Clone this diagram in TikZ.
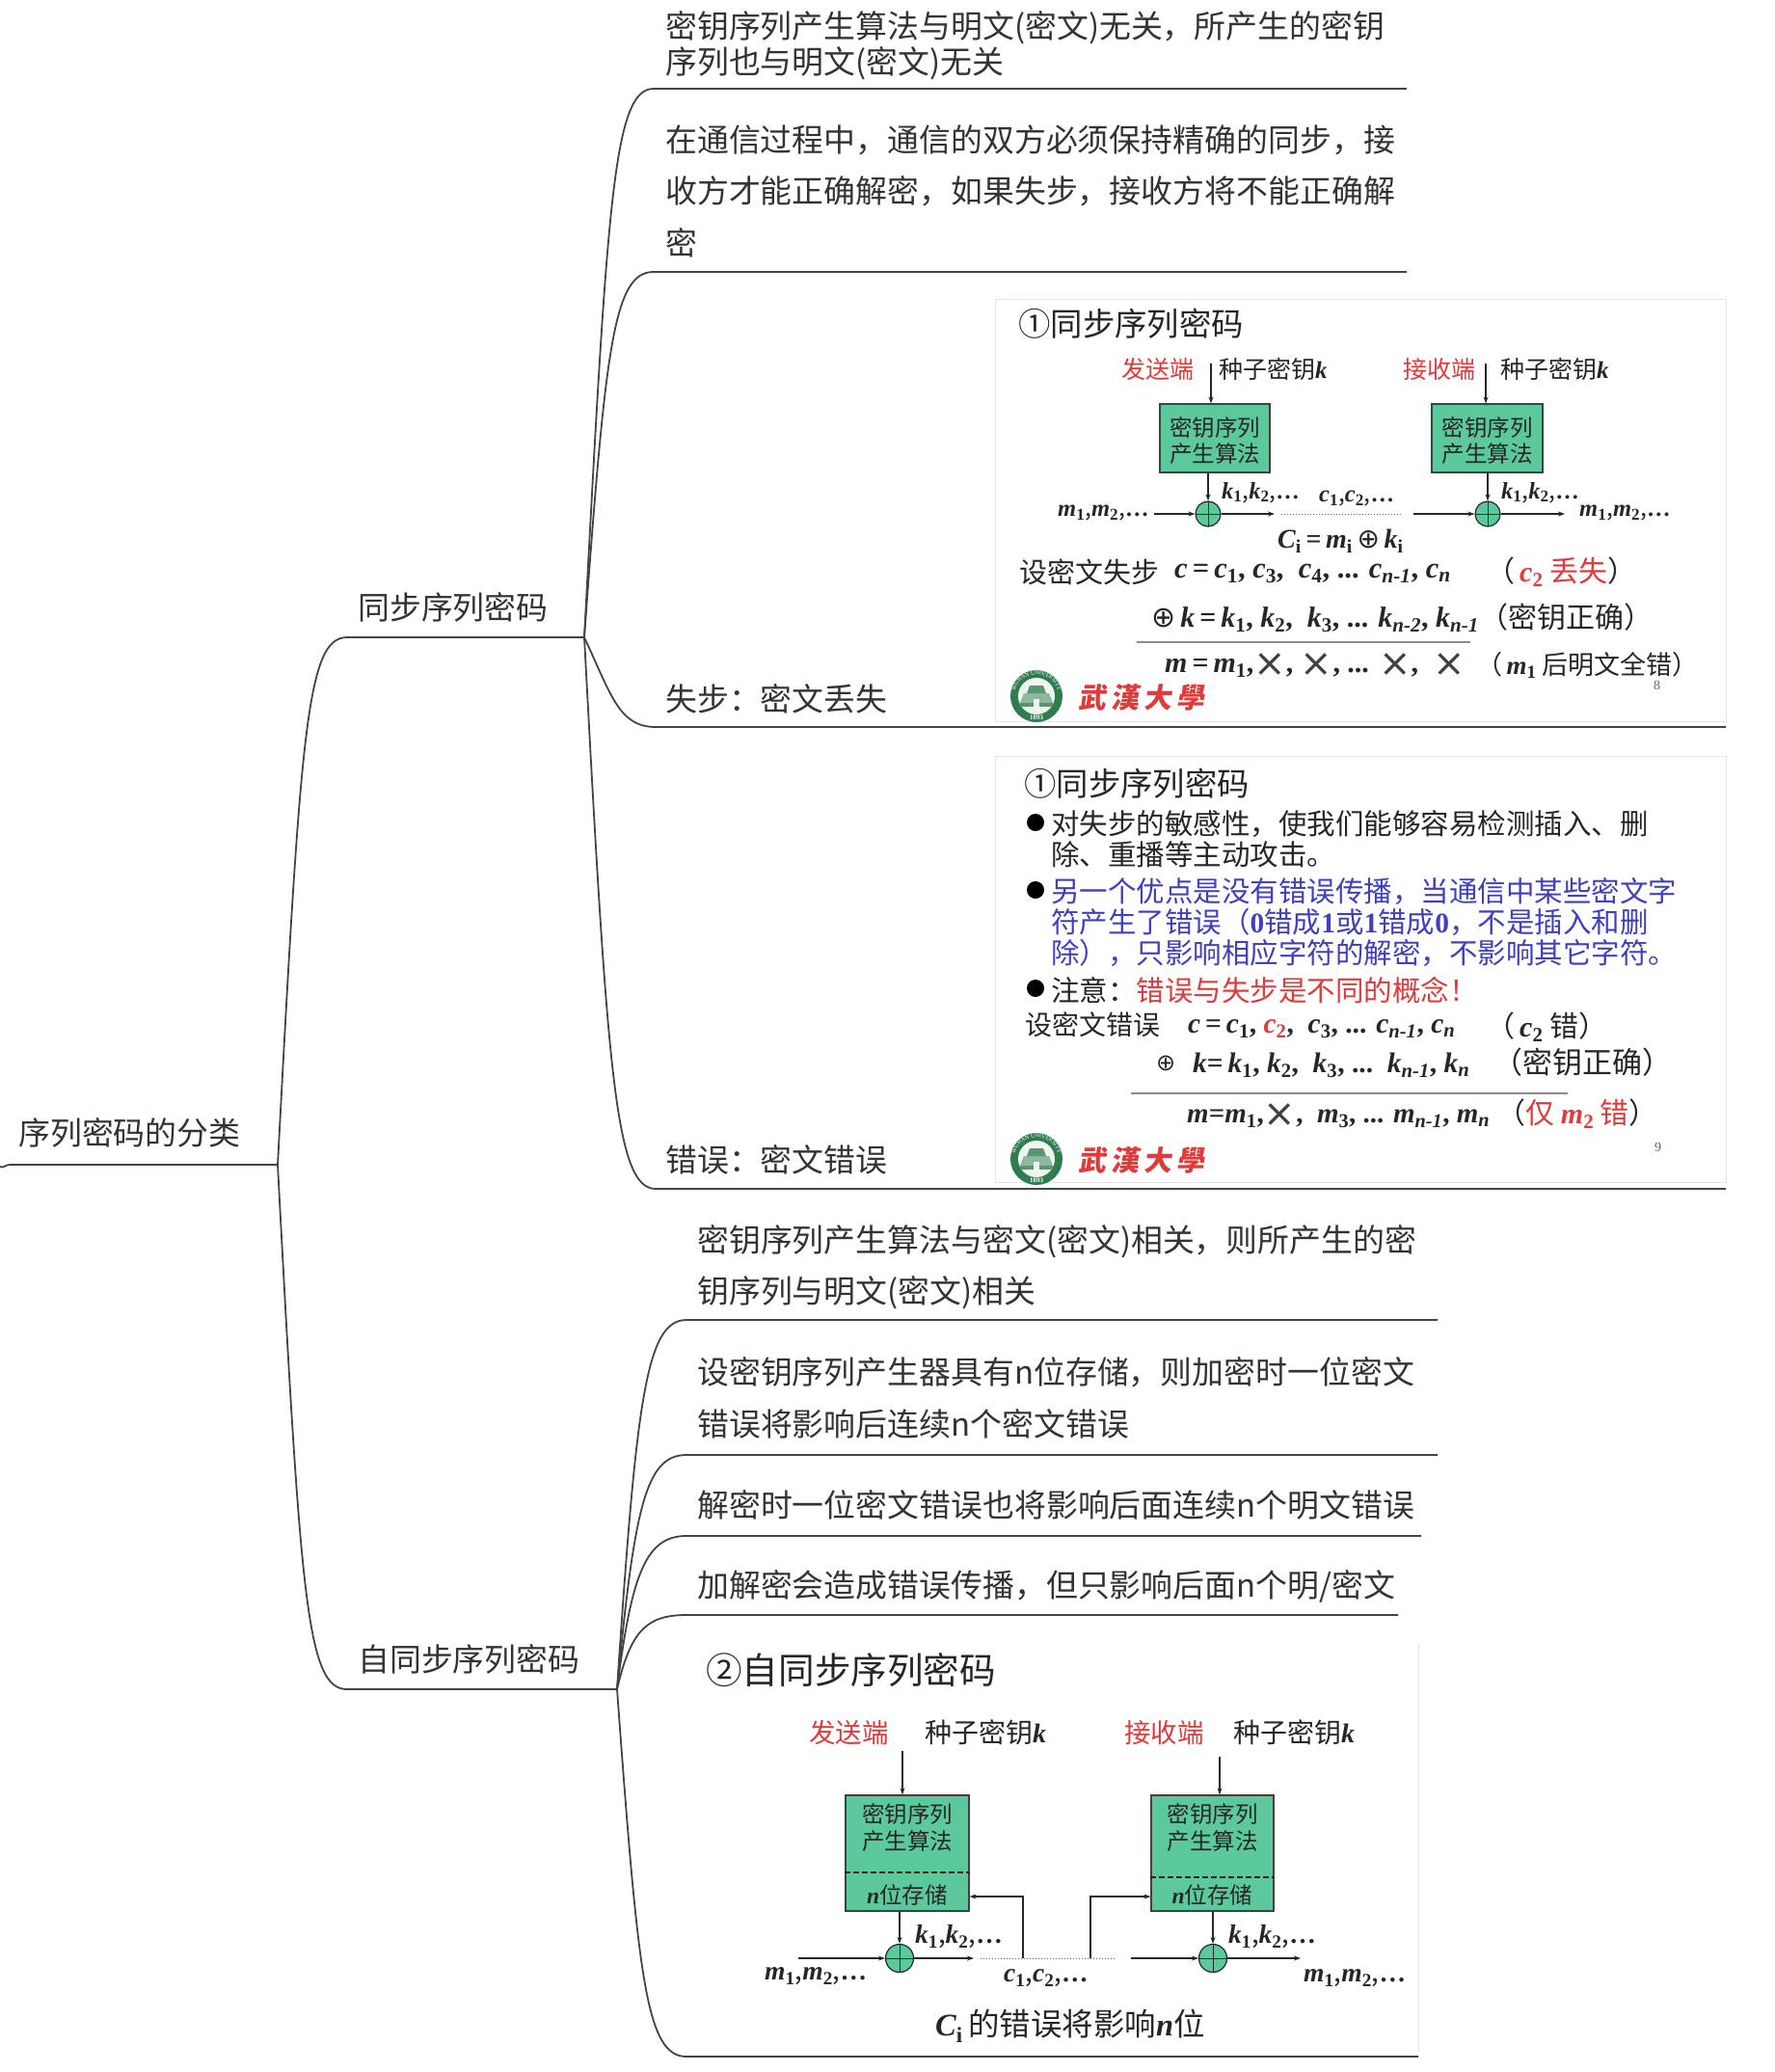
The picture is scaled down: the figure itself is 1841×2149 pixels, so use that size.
\documentclass[tikz,border=0pt]{standalone}
\usepackage{fontspec}
\setmainfont{Noto Sans CJK SC}
\newfontfamily\latf{Liberation Serif}
\newfontfamily\symf{DejaVu Sans}
\usetikzlibrary{
arrows.meta,
positioning,
calc,
decorations.text
}
\definecolor{inkgray}{HTML}{333333}
\definecolor{linegray}{HTML}{444444}
\definecolor{algogreen}{HTML}{5BC99B}
\definecolor{sealgreen}{HTML}{2F7D4F}
\definecolor{slidered}{HTML}{E03A3A}
\definecolor{slideblue}{HTML}{3F3FC0}
\newcommand{\bvar}[1]{{\latf\bfseries\itshape #1}}
\newcommand{\bsub}[2]{\bvar{#1}\textsubscript{{\latf\bfseries #2}}}
\newcommand{\bsubi}[2]{\bvar{#1}\textsubscript{\bvar{#2}}}
\newcommand{\xo}{{\symf ⊕}}
\newcommand{\xx}{\raisebox{-4pt}{\symf\fontsize{40}{40}\selectfont\color{black!75}×}}
\newcommand{\num}[1]{{\latf\bfseries #1}}
\tikzset{
seal/.pic={
\fill[sealgreen] (0,0) circle (27);
\fill[white!92!sealgreen] (0,0) circle (19);
\fill[sealgreen!55] (-13,-3) -- (13,-3) -- (17,7) -- (-17,7) -- cycle;
\fill[sealgreen!80] (-17,7) rectangle (17,11);
\fill[sealgreen!80] (-7,-11) -- (7,-11) -- (10,-3) -- (-10,-3) -- cycle;
\fill[white!92!sealgreen] (-3,11) rectangle (3,3);
\path[decorate,decoration={text along path,text align=center,
 text={|\fontsize{6}{6}\selectfont\latf\color{white}|WUHAN UNIVERSITY}}]
 (-22,-2) .. controls (-22,-29) and (22,-29) .. (22,-2);
\node[inner sep=0pt,text=white,font=\fontsize{7}{7}\selectfont\latf\bfseries] (sealyear) at (0,22.5) {1893};
}
}

\begin{document}
\begin{tikzpicture}[
x=1pt,y=-1pt,
branch/.style={draw=linegray,line width=1.8pt},
mind/.style={anchor=west,inner sep=0pt,text=inkgray,align=left,font=\fontsize{32.9}{37}\selectfont},
mindwide/.style={mind,font=\fontsize{32.9}{53.5}\selectfont},
slidebg/.style={fill=white,draw=black!10,line width=1pt},
algo/.style={draw=black!75,fill=algogreen,line width=1.2pt,inner sep=0pt,align=center},
algotxt/.style={inner sep=0pt,align=center,text=black!85,font=\fontsize{23.5}{27.5}\selectfont},
xorc/.style={circle,draw=black!85,fill=algogreen,line width=1.2pt,inner sep=0pt,minimum size=#1,
 path picture={\draw[black!85,line width=1pt] (path picture bounding box.north) -- (path picture bounding box.south)
 (path picture bounding box.west) -- (path picture bounding box.east);}},
flow/.style={-{Stealth[length=7pt,width=5pt]},black!85,line width=1.2pt},
dots/.style={black!60,line width=1pt,dotted},
slidetxt/.style={anchor=west,inner sep=0pt,text=black!85,font=\fontsize{#1}{#1}\selectfont},
bulletdot/.style={circle,fill=black,inner sep=0pt,minimum size=18pt},
univ/.style={anchor=west,inner sep=0pt,text=slidered,font=\fontsize{29}{29}\selectfont\bfseries,xslant=0.15}
]

\useasboundingbox (0,0) rectangle (1841,2149);
\fill[white] (0,0) rectangle (1841,2149);

% slides behind the branches
\draw[slidebg] (1032,310) rectangle (1790,748);
\draw[slidebg] (1032,784) rectangle (1790,1226);
\draw[black!10,line width=1pt] (1471,1705) -- (1471,2128);

% root
\coordinate (rootin) at (0,1210);
\coordinate (rootbend) at (10,1208);
\coordinate (rootj) at (288,1208);
\draw[branch] (rootin) to[out=-30,in=180] (rootbend) -- (rootj);
\node[mind] (root) at (19,1175) {序列密码的分类};

% sync branch
\coordinate (syncbend) at (360,661);
\coordinate (syncj) at (606,661);
\draw[branch] (rootj) .. controls +(24,-450) and +(-42,0) .. (syncbend) -- (syncj);
\node[mind] (sync) at (371,630) {同步序列密码};

\coordinate (a1bend) at (678,92);
\coordinate (a1end) at (1459,92);
\coordinate (a2bend) at (678,282);
\coordinate (a2end) at (1459,282);
\coordinate (a3bend) at (680,754);
\coordinate (a3end) at (1790,754);
\coordinate (a4bend) at (680,1233);
\coordinate (a4end) at (1790,1233);
\draw[branch] (syncj) .. controls +(24,-450) and +(-42,0) .. (a1bend) -- (a1end);
\draw[branch] (syncj) .. controls +(22,-300) and +(-42,0) .. (a2bend) -- (a2end);
\draw[branch] (syncj) .. controls +(28,60) and +(-38,0) .. (a3bend) -- (a3end);
\draw[branch] (syncj) .. controls +(24,450) and +(-42,0) .. (a4bend) -- (a4end);

\node[mind] (a1) at (690,47) {密钥序列产生算法与明文(密文)无关，所产生的密钥\\序列也与明文(密文)无关};
\node[mindwide] (a2) at (690,198) {在通信过程中，通信的双方必须保持精确的同步，接\\收方才能正确解密，如果失步，接收方将不能正确解\\密};
\node[mind] (a3) at (690,725) {失步：密文丢失};
\node[mind] (a4) at (690,1203) {错误：密文错误};

% self-sync branch
\coordinate (selfbend) at (360,1752);
\coordinate (selfj) at (640,1752);
\draw[branch] (rootj) .. controls +(24,450) and +(-42,0) .. (selfbend) -- (selfj);
\node[mind] (self) at (371,1721) {自同步序列密码};

\coordinate (b1bend) at (712,1369);
\coordinate (b1end) at (1491,1369);
\coordinate (b2bend) at (712,1509);
\coordinate (b2end) at (1491,1509);
\coordinate (b3bend) at (712,1593);
\coordinate (b3end) at (1474,1593);
\coordinate (b4bend) at (712,1675);
\coordinate (b4end) at (1450,1675);
\coordinate (b5bend) at (712,2133);
\coordinate (b5end) at (1471,2133);
\draw[branch] (selfj) .. controls +(20,-300) and +(-42,0) .. (b1bend) -- (b1end);
\draw[branch] (selfj) .. controls +(18,-190) and +(-42,0) .. (b2bend) -- (b2end);
\draw[branch] (selfj) .. controls +(15,-120) and +(-42,0) .. (b3bend) -- (b3end);
\draw[branch] (selfj) .. controls +(14,-60) and +(-42,0) .. (b4bend) -- (b4end);
\draw[branch] (selfj) .. controls +(22,300) and +(-42,0) .. (b5bend) -- (b5end);

\node[mindwide] (b1) at (723,1314) {密钥序列产生算法与密文(密文)相关，则所产生的密\\钥序列与明文(密文)相关};
\node[mindwide] (b2) at (723,1450) {设密钥序列产生器具有n位存储，则加密时一位密文\\错误将影响后连续n个密文错误};
\node[mind] (b3) at (723,1561) {解密时一位密文错误也将影响后面连续n个明文错误};
\node[mind] (b4) at (723,1645) {加解密会造成错误传播，但只影响后面n个明/密文};

% slide one
\node[slidetxt=33.4] (s1title) at (1056,336) {①同步序列密码};
\node[slidetxt=25,text=slidered] (s1send) at (1163,383) {发送端};
\node[slidetxt=25] (s1seed) at (1264,383) {种子密钥\bvar{k}};
\node[slidetxt=25,text=slidered] (s1recv) at (1455,383) {接收端};
\node[slidetxt=25] (s1seedb) at (1556,383) {种子密钥\bvar{k}};
\node[algo,minimum width=114pt,minimum height=71pt] (s1gen) at (1260,454.5) {};
\node[algo,minimum width=115pt,minimum height=71pt] (s1genb) at (1542.5,454.5) {};
\node[algotxt] (s1genl) at (1260,457) {密钥序列\\产生算法};
\node[algotxt] (s1genlb) at (1542.5,457) {密钥序列\\产生算法};
\node[xorc=26pt] (s1xor) at (1253,533) {};
\node[xorc=26pt] (s1xorb) at (1543,533) {};
\coordinate (s1ktop) at (1256,377);
\coordinate (s1ktopb) at (1541,377);
\draw[flow] (s1ktop) -- (s1ktop |- s1gen.north);
\draw[flow] (s1ktopb) -- (s1ktopb |- s1genb.north);
\draw[flow] (s1gen.south -| s1xor) -- (s1xor);
\draw[flow] (s1genb.south -| s1xorb) -- (s1xorb);
\node[slidetxt=24.5] (s1min) at (1097,532) {\bsub{m}{1},\bsub{m}{2},{\latf\bfseries…}};
\node[slidetxt=24.5] (s1k) at (1267,511) {\bsub{k}{1},\bsub{k}{2},{\latf\bfseries…}};
\node[slidetxt=24.5] (s1c) at (1368,517) {\bsub{c}{1},\bsub{c}{2},{\latf\bfseries…}};
\node[slidetxt=24.5] (s1kb) at (1557,511) {\bsub{k}{1},\bsub{k}{2},{\latf\bfseries…}};
\node[slidetxt=24.5] (s1mout) at (1638,532) {\bsub{m}{1},\bsub{m}{2},{\latf\bfseries…}};
\coordinate (s1l) at (1197,533);
\coordinate (s1r) at (1322,533);
\coordinate (s1dl) at (1329,533);
\coordinate (s1dr) at (1454,533);
\coordinate (s1lb) at (1466,533);
\coordinate (s1rb) at (1623,533);
\draw[flow] (s1l) -- (s1xor);
\draw[flow] (s1xor) -- (s1r);
\draw[dots] (s1dl) -- (s1dr);
\draw[flow] (s1lb) -- (s1xorb);
\draw[flow] (s1xorb) -- (s1rb);
\node[slidetxt=28] (s1eq) at (1325,561) {\bsub{C}{i}{\latf\bfseries\,=\,}\bsub{m}{i}\,\xo\,\bsub{k}{i}};
\node[slidetxt=29] (s1lose) at (1057,593) {设密文失步};
\node[slidetxt=30.5] (s1cseq) at (1218,595) {\bvar{c}{\latf\bfseries\,=\,}\bsub{c}{1}{\latf\bfseries, }\bsub{c}{3}{\latf\bfseries,\ \ }\bsub{c}{4}{\latf\bfseries, ... }\bsubi{c}{n-1}{\latf\bfseries, }\bsubi{c}{n}};
\node[slidetxt=30] (s1cnote) at (1541,593) {（\,\textcolor{slidered}{\bsub{c}{2} 丢失}）};
\node[slidetxt=30] (s1kseq) at (1194,643) {\xo\,\bvar{k}{\latf\bfseries\,=\,}\bsub{k}{1}{\latf\bfseries, }\bsub{k}{2}{\latf\bfseries,\ \ }\bsub{k}{3}{\latf\bfseries, ... }\bsubi{k}{n-2}{\latf\bfseries, }\bsubi{k}{n-1}};
\node[slidetxt=30] (s1knote) at (1534,640) {（密钥正确）};
\coordinate (s1rulel) at (1179,666);
\coordinate (s1ruler) at (1525,666);
\draw[black!45,line width=1.2pt] (s1rulel) -- (s1ruler);
\node[slidetxt=30] (s1mseq) at (1208,690) {\bvar{m}{\latf\bfseries\,=\,}\bsub{m}{1}{\latf\bfseries,}\xx{\latf\bfseries, }\xx{\latf\bfseries, ... }\xx{\latf\bfseries,\ \ }\xx};
\node[slidetxt=27] (s1mnote) at (1531,690) {（\,\bsub{m}{1} 后明文全错）};
\node[slidetxt=14,text=black!60] (s1page) at (1715,711) {\latf 8};
\pic at (1075,722) {seal};
\node[univ] (s1univ) at (1120,724) {武\,漢\,大\,學};

% slide two
\node[slidetxt=33.4] (s2title) at (1062,813) {①同步序列密码};
\node[bulletdot] (s2dota) at (1074,853) {};
\node[bulletdot] (s2dotb) at (1074,923) {};
\node[bulletdot] (s2dotc) at (1074,1025) {};
\node[slidetxt=29.5,align=left,font=\fontsize{29.5}{32}\selectfont] (s2pa) at (1090,870) {对失步的敏感性，使我们能够容易检测插入、删\\除、重播等主动攻击。};
\node[slidetxt=29.5,align=left,text=slideblue,font=\fontsize{29.5}{32}\selectfont] (s2pb) at (1090,957) {另一个优点是没有错误传播，当通信中某些密文字\\符产生了错误（\num{0}错成\num{1}或\num{1}错成\num{0}，不是插入和删\\除），只影响相应字符的解密，不影响其它字符。};
\node[slidetxt=29.5] (s2pc) at (1090,1027) {注意：\textcolor{slidered}{错误与失步是不同的概念！}};
\node[slidetxt=28] (s2err) at (1063,1063) {设密文错误};
\node[slidetxt=29.5] (s2cseq) at (1232,1067) {\bvar{c}{\latf\bfseries\,=\,}\bsub{c}{1}{\latf\bfseries, }\textcolor{slidered}{\bsub{c}{2}}{\latf\bfseries,\ \ }\bsub{c}{3}{\latf\bfseries, ... }\bsubi{c}{n-1}{\latf\bfseries, }\bsubi{c}{n}};
\node[slidetxt=30] (s2cnote) at (1541,1065) {（\,\bsub{c}{2} 错）};
\node[slidetxt=24] (s2xor) at (1199,1103) {\xo};
\node[slidetxt=29.5] (s2kseq) at (1237,1105) {\bvar{k}{\latf\bfseries=\,}\bsub{k}{1}{\latf\bfseries, }\bsub{k}{2}{\latf\bfseries,\ \ }\bsub{k}{3}{\latf\bfseries, ...\ \ }\bsubi{k}{n-1}{\latf\bfseries, }\bsubi{k}{n}};
\node[slidetxt=31] (s2knote) at (1548,1102) {（密钥正确）};
\coordinate (s2rulel) at (1173,1134);
\coordinate (s2ruler) at (1626,1134);
\draw[black!45,line width=1.2pt] (s2rulel) -- (s2ruler);
\node[slidetxt=29] (s2mseq) at (1231,1157) {\bvar{m}{\latf\bfseries=}\bsub{m}{1}{\latf\bfseries,}\xx{\latf\bfseries,\ \ }\bsub{m}{3}{\latf\bfseries, ... }\bsubi{m}{n-1}{\latf\bfseries, }\bsubi{m}{n}};
\node[slidetxt=30] (s2mnote) at (1552,1155) {（\textcolor{slidered}{仅 \bsub{m}{2} 错}）};
\node[slidetxt=14,text=black!60] (s2page) at (1716,1190) {\latf 9};
\pic at (1075,1202) {seal};
\node[univ] (s2univ) at (1120,1204) {武\,漢\,大\,學};

% slide three
\node[slidetxt=37.6] (s3title) at (732,1732) {②自同步序列密码};
\node[slidetxt=27.5,text=slidered] (s3send) at (839,1797) {发送端};
\node[slidetxt=28] (s3seed) at (959,1797) {种子密钥\bvar{k}};
\node[slidetxt=27.5,text=slidered] (s3recv) at (1166,1797) {接收端};
\node[slidetxt=28] (s3seedb) at (1279,1797) {种子密钥\bvar{k}};
\node[algo,minimum width=128pt,minimum height=120pt] (s3gen) at (941,1922) {};
\node[algo,minimum width=127pt,minimum height=120pt] (s3genb) at (1257.5,1922) {};
\node[algotxt] (s3genl) at (941,1895.5) {密钥序列\\产生算法};
\node[algotxt] (s3genlb) at (1257.5,1895.5) {密钥序列\\产生算法};
\node[algotxt] (s3mem) at (941,1965) {\bvar{n}位存储};
\node[algotxt] (s3memb) at (1257.5,1965) {\bvar{n}位存储};
\coordinate (s3dash) at (0,1942);
\coordinate (s3dashb) at (0,1947);
\draw[black!85,dash pattern=on 6pt off 3pt,line width=1.8pt] (s3gen.west |- s3dash) -- (s3gen.east |- s3dash);
\draw[black!85,dash pattern=on 6pt off 3pt,line width=1.8pt] (s3genb.west |- s3dashb) -- (s3genb.east |- s3dashb);
\node[xorc=29pt] (s3xor) at (933,2031) {};
\node[xorc=29pt] (s3xorb) at (1258,2031) {};
\coordinate (s3ktop) at (936,1816);
\coordinate (s3ktopb) at (1265,1822);
\draw[flow] (s3ktop) -- (s3ktop |- s3gen.north);
\draw[flow] (s3ktopb) -- (s3ktopb |- s3genb.north);
\draw[flow] (s3gen.south -| s3xor) -- (s3xor);
\draw[flow] (s3genb.south -| s3xorb) -- (s3xorb);
\coordinate (s3l) at (828,2031);
\coordinate (s3r) at (1010,2031);
\coordinate (s3dl) at (1017,2031);
\coordinate (s3dr) at (1157,2031);
\coordinate (s3lb) at (1173,2031);
\coordinate (s3rb) at (1349,2031);
\coordinate (s3fb) at (1061,2031);
\coordinate (s3fbb) at (1131,2031);
\coordinate (s3mid) at (0,1967);
\draw[flow] (s3l) -- (s3xor);
\draw[flow] (s3xor) -- (s3r);
\draw[dots] (s3dl) -- (s3dr);
\draw[flow] (s3lb) -- (s3xorb);
\draw[flow] (s3xorb) -- (s3rb);
\draw[flow] (s3fb) -- (s3fb |- s3mid) -- (s3gen.east |- s3mid);
\draw[flow] (s3fbb) -- (s3fbb |- s3mid) -- (s3genb.west |- s3mid);
\node[slidetxt=27.5] (s3k) at (949,2009) {\bsub{k}{1},\bsub{k}{2},{\latf\bfseries…}};
\node[slidetxt=27.5] (s3kb) at (1274,2009) {\bsub{k}{1},\bsub{k}{2},{\latf\bfseries…}};
\node[slidetxt=27.5] (s3min) at (793,2050) {\bsub{m}{1},\bsub{m}{2},{\latf\bfseries…}};
\node[slidetxt=27.5] (s3c) at (1041,2052) {\bsub{c}{1},\bsub{c}{2},{\latf\bfseries…}};
\node[slidetxt=27.5] (s3mout) at (1352,2052) {\bsub{m}{1},\bsub{m}{2},{\latf\bfseries…}};
\node[slidetxt=32.5] (s3note) at (970,2101) {\bsub{C}{i}\,的错误将影响\bvar{n}位};

\end{tikzpicture}
\end{document}
